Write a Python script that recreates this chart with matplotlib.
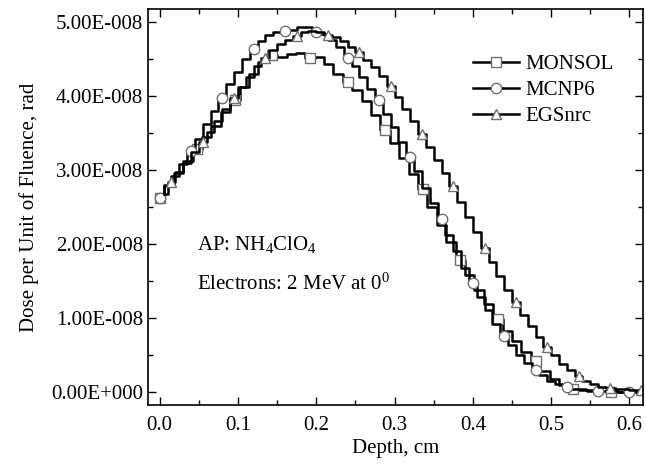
import numpy as np
import matplotlib
matplotlib.use("Agg")
import matplotlib.pyplot as plt
from matplotlib.ticker import MultipleLocator, FixedLocator, FixedFormatter

plt.rcParams['font.family'] = ['Liberation Serif', 'DejaVu Serif']
plt.rcParams['mathtext.fontset'] = 'custom'
plt.rcParams['mathtext.rm'] = 'Liberation Serif'
plt.rcParams['mathtext.default'] = 'regular'

# dose per unit fluence, units of 1e-8 rad
monsol_depth = np.arange(52) * 0.012
monsol = [2.62, 2.80, 2.96, 3.12, 3.28, 3.44, 3.60, 3.78, 3.95, 4.12,
          4.30, 4.46, 4.55, 4.53, 4.57, 4.58, 4.51, 4.53, 4.44, 4.30,
          4.19, 4.08, 3.93, 3.75, 3.54, 3.36, 3.16, 2.95, 2.74, 2.50,
          2.26, 2.02, 1.78, 1.58, 1.38, 1.18, 0.98, 0.82, 0.68, 0.54,
          0.42, 0.28, 0.17, 0.09, 0.04, 0.02, 0.01, 0.01, 0.00, 0.00,
          0.00, 0.00]

mcnp_depth = np.arange(62) * 0.01
mcnp = [2.62, 2.78, 2.92, 3.08, 3.26, 3.42, 3.62, 3.80, 3.98, 4.16,
        4.33, 4.50, 4.63, 4.74, 4.82, 4.86, 4.885, 4.90, 4.93, 4.93,
        4.86, 4.84, 4.76, 4.66, 4.52, 4.40, 4.26, 4.10, 3.94, 3.76,
        3.58, 3.38, 3.18, 2.98, 2.76, 2.55, 2.33, 2.12, 1.90, 1.68,
        1.47, 1.28, 1.10, 0.92, 0.76, 0.63, 0.50, 0.39, 0.30, 0.22,
        0.15, 0.10, 0.06, 0.04, 0.03, 0.02, 0.01, 0.01, 0.01, 0.00,
        0.00, 0.00]

egs_depth = 0.005 + np.arange(62) * 0.01
egs = [2.68, 2.84, 2.97, 3.10, 3.24, 3.38, 3.52, 3.66, 3.82, 3.97,
       4.12, 4.26, 4.40, 4.52, 4.62, 4.70, 4.76, 4.81, 4.86, 4.88,
       4.87, 4.83, 4.80, 4.74, 4.67, 4.59, 4.49, 4.39, 4.27, 4.14,
       3.99, 3.83, 3.66, 3.48, 3.31, 3.14, 2.96, 2.78, 2.57, 2.37,
       2.16, 1.95, 1.75, 1.56, 1.38, 1.21, 1.04, 0.89, 0.74, 0.61,
       0.49, 0.38, 0.29, 0.21, 0.15, 0.10, 0.07, 0.05, 0.04, 0.03,
       0.02, 0.02]

ytick_vals = [0, 1, 2, 3, 4, 5]
ytick_labels = ['0.00E+000', '1.00E-008', '2.00E-008', '3.00E-008', '4.00E-008', '5.00E-008']

fig = plt.figure(figsize=(6.46, 4.65), dpi=100)
ax = fig.add_axes([0.229, 0.129, 0.766, 0.852])

mk = dict(markerfacecolor='white', markeredgecolor='#707070', markersize=7.5,
          markeredgewidth=1.0, color='black', lw=1.8, drawstyle='steps-mid')
ax.plot(monsol_depth, monsol, marker='s', markevery=(0, 4), label='MONSOL', **mk)
ax.plot(mcnp_depth, mcnp, marker='o', markevery=(0, 4), label='MCNP6', **mk)
ax.plot(egs_depth, egs, marker='^', markevery=(1, 4), label='EGSnrc', **mk)

ax.set_xlim(-0.015, 0.617)
ax.set_ylim(-0.18, 5.18)
ax.xaxis.set_major_locator(MultipleLocator(0.1))
ax.xaxis.set_minor_locator(MultipleLocator(0.05))
ax.yaxis.set_major_locator(FixedLocator(ytick_vals))
ax.yaxis.set_major_formatter(FixedFormatter(ytick_labels))
ax.yaxis.set_minor_locator(MultipleLocator(0.5))
ax.tick_params(which='both', direction='in', top=True, right=True, labelsize=15)
ax.tick_params(which='major', length=6, width=1)
ax.tick_params(which='minor', length=3.5, width=1)
ax.tick_params(axis='x', pad=8)
for s in ax.spines.values():
    s.set_linewidth(1.2)

ax.set_xlabel('Depth, cm', fontsize=15, labelpad=3)
ax.set_ylabel('Dose per Unit of Fluence, rad', fontsize=15, labelpad=9)

ax.text(0.1, 0.405, 'AP: NH$_4$ClO$_4$', transform=ax.transAxes, fontsize=15, va='center')
ax.text(0.1, 0.305, 'Electrons: 2 MeV at 0$^0$', transform=ax.transAxes, fontsize=15, va='center')

ax.legend(loc='upper left', bbox_to_anchor=(0.64, 0.905), frameon=False, fontsize=15,
          handlelength=2.2, handletextpad=0.3, labelspacing=0.3, borderaxespad=0)

fig.savefig('out.png', dpi=100)
